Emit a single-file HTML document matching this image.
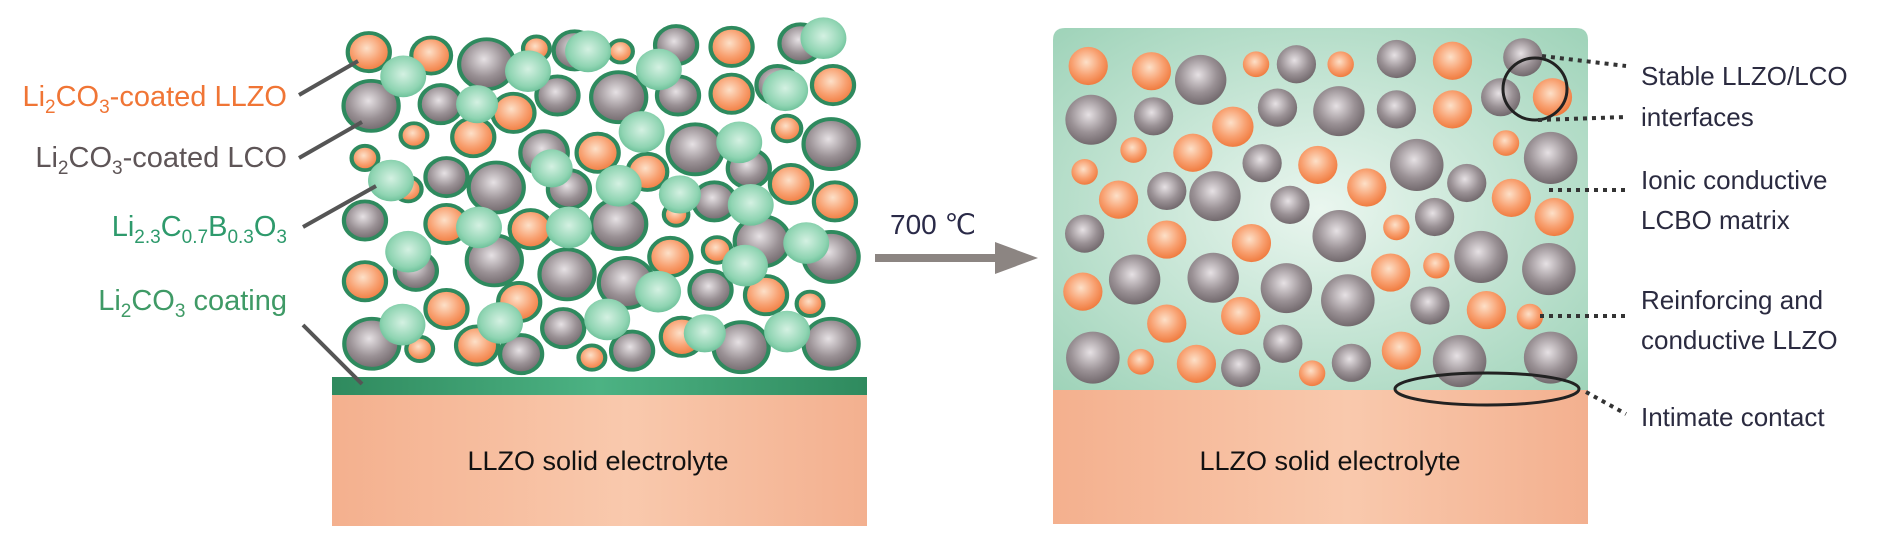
<!DOCTYPE html>
<html><head><meta charset="utf-8"><style>
html,body{margin:0;padding:0;background:#fff;width:1890px;height:544px;overflow:hidden}
svg{display:block}
text{font-family:"Liberation Sans",sans-serif}
</style></head><body>
<svg width="1890" height="544" viewBox="0 0 1890 544" xmlns="http://www.w3.org/2000/svg">
<defs>
<radialGradient id="o" cx="0.45" cy="0.4" r="0.6"><stop offset="0" stop-color="#fde0c8"/><stop offset="0.6" stop-color="#f8a070"/><stop offset="1" stop-color="#f07c40"/></radialGradient>
<radialGradient id="g" cx="0.45" cy="0.4" r="0.6"><stop offset="0" stop-color="#e6e1e4"/><stop offset="0.6" stop-color="#9a9195"/><stop offset="1" stop-color="#736a6e"/></radialGradient>
<radialGradient id="t" cx="0.5" cy="0.45" r="0.6"><stop offset="0" stop-color="#d4f1e2"/><stop offset="0.7" stop-color="#8fd4b2"/><stop offset="1" stop-color="#62bb92"/></radialGradient>
<radialGradient id="bg" cx="0.5" cy="0.5" r="0.7"><stop offset="0" stop-color="#eaf6ef"/><stop offset="1" stop-color="#9fd3b9"/></radialGradient>
<linearGradient id="sub" x1="0" y1="0" x2="1" y2="0"><stop offset="0" stop-color="#f4b08e"/><stop offset="0.55" stop-color="#f9c9ad"/><stop offset="1" stop-color="#f3b08f"/></linearGradient>
<linearGradient id="strip" x1="0" y1="0" x2="1" y2="0"><stop offset="0" stop-color="#2f8a5e"/><stop offset="0.5" stop-color="#4cb283"/><stop offset="1" stop-color="#2f8a5e"/></linearGradient>
</defs>

<!-- left panel -->
<rect x="332" y="435" width="535" height="91" fill="url(#sub)"/>
<rect x="332" y="377" width="535" height="18" fill="url(#strip)"/>
<rect x="332" y="395" width="535" height="131" fill="url(#sub)"/>
<text x="598" y="470" font-size="27" text-anchor="middle" fill="#111">LLZO solid electrolyte</text>

<g transform="translate(280,0) scale(0.3827,0.3472)" stroke="#2e8a5e" stroke-width="11">
<circle cx="232" cy="150" r="55" fill="url(#o)"/>
<circle cx="395" cy="160" r="52" fill="url(#o)"/>
<circle cx="540" cy="185" r="72" fill="url(#g)"/>
<circle cx="670" cy="140" r="35" fill="url(#o)"/>
<circle cx="770" cy="145" r="55" fill="url(#g)"/>
<circle cx="890" cy="148" r="32" fill="url(#o)"/>
<circle cx="1035" cy="130" r="55" fill="url(#g)"/>
<circle cx="1180" cy="135" r="55" fill="url(#o)"/>
<circle cx="1360" cy="125" r="55" fill="url(#g)"/>
<circle cx="238" cy="305" r="72" fill="url(#g)"/>
<circle cx="420" cy="300" r="55" fill="url(#g)"/>
<circle cx="610" cy="325" r="55" fill="url(#o)"/>
<circle cx="725" cy="275" r="55" fill="url(#g)"/>
<circle cx="885" cy="280" r="72" fill="url(#g)"/>
<circle cx="1040" cy="275" r="55" fill="url(#g)"/>
<circle cx="1180" cy="270" r="55" fill="url(#o)"/>
<circle cx="1300" cy="245" r="55" fill="url(#g)"/>
<circle cx="1445" cy="245" r="55" fill="url(#o)"/>
<circle cx="350" cy="390" r="35" fill="url(#o)"/>
<circle cx="505" cy="395" r="55" fill="url(#o)"/>
<circle cx="690" cy="440" r="62" fill="url(#g)"/>
<circle cx="830" cy="440" r="55" fill="url(#o)"/>
<circle cx="1085" cy="430" r="72" fill="url(#g)"/>
<circle cx="1325" cy="370" r="37" fill="url(#o)"/>
<circle cx="1440" cy="415" r="72" fill="url(#g)"/>
<circle cx="222" cy="455" r="35" fill="url(#o)"/>
<circle cx="335" cy="545" r="35" fill="url(#o)"/>
<circle cx="435" cy="510" r="55" fill="url(#g)"/>
<circle cx="565" cy="540" r="72" fill="url(#g)"/>
<circle cx="755" cy="545" r="55" fill="url(#g)"/>
<circle cx="960" cy="495" r="52" fill="url(#o)"/>
<circle cx="1135" cy="580" r="55" fill="url(#g)"/>
<circle cx="1225" cy="485" r="55" fill="url(#g)"/>
<circle cx="1335" cy="530" r="55" fill="url(#o)"/>
<circle cx="1450" cy="580" r="55" fill="url(#o)"/>
<circle cx="222" cy="635" r="55" fill="url(#g)"/>
<circle cx="435" cy="645" r="55" fill="url(#o)"/>
<circle cx="655" cy="660" r="55" fill="url(#o)"/>
<circle cx="885" cy="645" r="72" fill="url(#g)"/>
<circle cx="1035" cy="618" r="32" fill="url(#o)"/>
<circle cx="1260" cy="695" r="72" fill="url(#g)"/>
<circle cx="1440" cy="740" r="72" fill="url(#g)"/>
<circle cx="355" cy="780" r="55" fill="url(#g)"/>
<circle cx="222" cy="810" r="55" fill="url(#o)"/>
<circle cx="560" cy="750" r="72" fill="url(#g)"/>
<circle cx="750" cy="790" r="72" fill="url(#g)"/>
<circle cx="1020" cy="740" r="55" fill="url(#o)"/>
<circle cx="1142" cy="720" r="37" fill="url(#o)"/>
<circle cx="905" cy="815" r="72" fill="url(#g)"/>
<circle cx="1125" cy="835" r="55" fill="url(#g)"/>
<circle cx="1270" cy="850" r="55" fill="url(#o)"/>
<circle cx="1385" cy="875" r="35" fill="url(#o)"/>
<circle cx="435" cy="890" r="55" fill="url(#o)"/>
<circle cx="625" cy="870" r="55" fill="url(#o)"/>
<circle cx="740" cy="945" r="55" fill="url(#g)"/>
<circle cx="240" cy="990" r="72" fill="url(#g)"/>
<circle cx="365" cy="1005" r="35" fill="url(#o)"/>
<circle cx="515" cy="995" r="55" fill="url(#o)"/>
<circle cx="630" cy="1020" r="55" fill="url(#g)"/>
<circle cx="815" cy="1030" r="35" fill="url(#o)"/>
<circle cx="920" cy="1010" r="55" fill="url(#g)"/>
<circle cx="1050" cy="970" r="55" fill="url(#o)"/>
<circle cx="1205" cy="1000" r="72" fill="url(#g)"/>
<circle cx="1440" cy="990" r="72" fill="url(#g)"/>
<g stroke="none" fill="url(#t)">
<circle cx="322" cy="220" r="60"/><circle cx="648" cy="205" r="60"/><circle cx="805" cy="148" r="60"/>
<circle cx="1420" cy="110" r="60"/><circle cx="515" cy="300" r="55"/><circle cx="990" cy="200" r="60"/>
<circle cx="1320" cy="260" r="60"/><circle cx="945" cy="380" r="60"/><circle cx="1200" cy="410" r="60"/>
<circle cx="290" cy="520" r="60"/><circle cx="710" cy="485" r="55"/><circle cx="885" cy="535" r="60"/>
<circle cx="1045" cy="560" r="55"/><circle cx="1230" cy="590" r="60"/><circle cx="520" cy="655" r="60"/>
<circle cx="755" cy="655" r="60"/><circle cx="1375" cy="700" r="60"/><circle cx="335" cy="725" r="60"/>
<circle cx="988" cy="840" r="60"/><circle cx="1215" cy="765" r="60"/><circle cx="575" cy="930" r="60"/>
<circle cx="855" cy="920" r="60"/><circle cx="320" cy="935" r="60"/><circle cx="1110" cy="960" r="55"/>
<circle cx="1325" cy="955" r="60"/>
</g>
</g>

<!-- left labels -->
<g stroke="#555" stroke-width="4">
<line x1="299" y1="95" x2="358" y2="61"/>
<line x1="299" y1="158" x2="362" y2="122"/>
<line x1="303" y1="227" x2="376" y2="186"/>
<line x1="303" y1="325" x2="362" y2="384"/>
</g>
<g font-size="29" text-anchor="end">
<text x="287" y="106" fill="#f07535">Li<tspan font-size="19" dy="7">2</tspan><tspan dy="-7">CO</tspan><tspan font-size="19" dy="7">3</tspan><tspan dy="-7">-coated LLZO</tspan></text>
<text x="287" y="167" fill="#5e5557">Li<tspan font-size="19" dy="7">2</tspan><tspan dy="-7">CO</tspan><tspan font-size="19" dy="7">3</tspan><tspan dy="-7">-coated LCO</tspan></text>
<text x="287" y="236" fill="#2e9a6c">Li<tspan font-size="19" dy="7">2.3</tspan><tspan dy="-7">C</tspan><tspan font-size="19" dy="7">0.7</tspan><tspan dy="-7">B</tspan><tspan font-size="19" dy="7">0.3</tspan><tspan dy="-7">O</tspan><tspan font-size="19" dy="7">3</tspan></text>
<text x="287" y="310" fill="#3f9a66">Li<tspan font-size="19" dy="7">2</tspan><tspan dy="-7">CO</tspan><tspan font-size="19" dy="7">3</tspan><tspan dy="-7"> coating</tspan></text>
</g>

<!-- arrow -->
<text x="890" y="234" font-size="28" fill="#2a2a48">700 ℃</text>
<line x1="875" y1="258" x2="1005" y2="258" stroke="#8c8582" stroke-width="8"/>
<polygon points="995,242 1038,258 995,274" fill="#8c8582"/>

<!-- right panel -->
<path d="M1053,390 V40 Q1053,28 1065,28 H1576 Q1588,28 1588,40 V390 Z" fill="url(#bg)"/>
<rect x="1053" y="390" width="535" height="134" fill="url(#sub)"/>
<text x="1330" y="470" font-size="27" text-anchor="middle" fill="#111">LLZO solid electrolyte</text>

<g transform="translate(1040,0) scale(0.3571,0.3472)">
<g fill="url(#o)">
<circle cx="135" cy="190" r="55"/><circle cx="312" cy="205" r="55"/><circle cx="605" cy="185" r="37"/><circle cx="842" cy="185" r="37"/><circle cx="1155" cy="175" r="55"/>
<circle cx="540" cy="365" r="58"/><circle cx="1155" cy="315" r="55"/><circle cx="1435" cy="280" r="55"/>
<circle cx="262" cy="432" r="37"/><circle cx="428" cy="440" r="55"/><circle cx="778" cy="475" r="55"/><circle cx="1305" cy="412" r="37"/>
<circle cx="125" cy="495" r="37"/><circle cx="220" cy="575" r="55"/><circle cx="915" cy="540" r="55"/><circle cx="1320" cy="570" r="55"/>
<circle cx="355" cy="690" r="55"/><circle cx="592" cy="700" r="55"/><circle cx="998" cy="655" r="37"/><circle cx="1440" cy="625" r="55"/>
<circle cx="120" cy="840" r="55"/><circle cx="982" cy="785" r="55"/><circle cx="1110" cy="765" r="37"/>
<circle cx="355" cy="932" r="55"/><circle cx="562" cy="910" r="55"/><circle cx="1250" cy="893" r="55"/><circle cx="1372" cy="912" r="37"/>
<circle cx="282" cy="1042" r="37"/><circle cx="438" cy="1048" r="55"/><circle cx="762" cy="1075" r="37"/><circle cx="1012" cy="1010" r="55"/>
</g>
<g fill="url(#g)">
<circle cx="450" cy="230" r="72"/><circle cx="718" cy="185" r="55"/><circle cx="998" cy="170" r="55"/><circle cx="1352" cy="165" r="55"/>
<circle cx="143" cy="345" r="72"/><circle cx="318" cy="335" r="55"/><circle cx="665" cy="310" r="55"/><circle cx="837" cy="320" r="72"/><circle cx="998" cy="315" r="55"/><circle cx="1290" cy="280" r="55"/>
<circle cx="622" cy="470" r="55"/><circle cx="1055" cy="475" r="75"/><circle cx="1430" cy="455" r="75"/>
<circle cx="355" cy="550" r="55"/><circle cx="490" cy="565" r="72"/><circle cx="700" cy="590" r="55"/><circle cx="1195" cy="527" r="55"/>
<circle cx="125" cy="673" r="55"/><circle cx="838" cy="680" r="75"/><circle cx="1105" cy="625" r="55"/>
<circle cx="265" cy="805" r="72"/><circle cx="485" cy="800" r="72"/><circle cx="1235" cy="740" r="75"/><circle cx="1425" cy="775" r="75"/>
<circle cx="690" cy="830" r="72"/><circle cx="862" cy="865" r="75"/><circle cx="1092" cy="880" r="55"/>
<circle cx="148" cy="1030" r="75"/><circle cx="562" cy="1060" r="55"/><circle cx="680" cy="990" r="55"/><circle cx="872" cy="1045" r="55"/><circle cx="1175" cy="1040" r="75"/><circle cx="1430" cy="1030" r="75"/>
</g>
</g>

<ellipse cx="1535" cy="89" rx="32" ry="31" fill="none" stroke="#222" stroke-width="3"/>
<ellipse cx="1487" cy="389" rx="92" ry="16" fill="none" stroke="#222" stroke-width="3"/>

<g stroke="#333" stroke-width="4" stroke-dasharray="4,5" fill="none">
<line x1="1542" y1="56" x2="1626" y2="66"/>
<line x1="1538" y1="120" x2="1626" y2="117"/>
<line x1="1549" y1="190" x2="1626" y2="190"/>
<line x1="1540" y1="316" x2="1626" y2="316"/>
<line x1="1586" y1="392" x2="1626" y2="414"/>
</g>
<g font-size="26" fill="#2b2b40">
<text x="1641" y="85">Stable LLZO/LCO</text>
<text x="1641" y="126">interfaces</text>
<text x="1641" y="189">Ionic conductive</text>
<text x="1641" y="229">LCBO matrix</text>
<text x="1641" y="309">Reinforcing and</text>
<text x="1641" y="349">conductive LLZO</text>
<text x="1641" y="426">Intimate contact</text>
</g>
</svg>
</body></html>
